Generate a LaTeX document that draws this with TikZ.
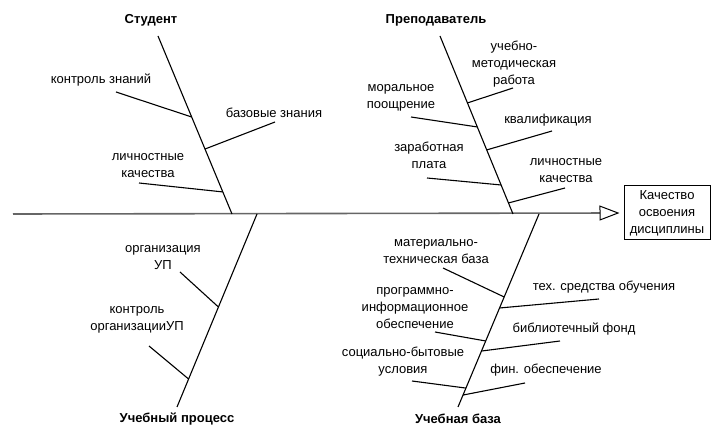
\documentclass[tikz,border=0pt]{standalone}
\usepackage{fontspec}
\setmainfont{Liberation Sans}
\usetikzlibrary{arrows.meta,calc}
\begin{document}
\begin{tikzpicture}[x=1pt,y=-1pt,
  lbl/.style={font=\fontsize{13}{17}\selectfont, align=center, inner sep=0pt},
  head/.style={font=\bfseries\fontsize{13}{17}\selectfont, inner sep=0pt},
  bone/.style={line width=1.1pt, black},
  spine/.style={line width=1.6pt, black!60},
  boxst/.style={draw, line width=1pt, align=center, minimum width=86pt, minimum height=54pt, inner sep=1pt, font=\fontsize{13}{17}\selectfont}]
\useasboundingbox (0,0) rectangle (721,438);
% main spine and result box
\coordinate (spL) at (13,214);
\node[boxst] (res) at (667,213) {Качество\\освоения\\дисциплины};
\draw[spine, -{Triangle[open, length=20pt, width=15pt, line width=1pt, black]}, shorten >=4pt] (spL) -- (res.west);
% bone end points
\coordinate (S1) at (158,36);  \coordinate (S2) at (232,214);
\coordinate (T1) at (440,36);  \coordinate (T2) at (513,214);
\coordinate (P1) at (257,214); \coordinate (P2) at (177,407);
\coordinate (B1) at (539,214); \coordinate (B2) at (458,407);
\draw[bone] (S1) -- (S2);
\draw[bone] (T1) -- (T2);
\draw[bone] (P1) -- (P2);
\draw[bone] (B1) -- (B2);
% headings
\node[head] (hS) at (151,20) {Студент};
\node[head] (hT) at (436,20) {Преподаватель};
\node[head] (hP) at (177,419) {Учебный процесс};
\node[head] (hB) at (458,419) {Учебная база};
% Student
\coordinate (s1) at (116,92);  \draw[bone] (s1) -- ($(S1)!0.455!(S2)$);
\coordinate (s2) at (275,122); \draw[bone] (s2) -- ($(S1)!0.635!(S2)$);
\coordinate (s3) at (139,183); \draw[bone] (s3) -- ($(S1)!0.876!(S2)$);
\node[lbl] (ls1) at (101,80) {контроль знаний};
\node[lbl] (ls2) at (274,113) {базовые знания};
\node[lbl] (ls3) at (148,166) {личностные\\качества};
% Teacher
\coordinate (t1) at (513,88);  \draw[bone] (t1) -- ($(T1)!0.376!(T2)$);
\coordinate (t2) at (411,117); \draw[bone] (t2) -- ($(T1)!0.511!(T2)$);
\coordinate (t3) at (552,131); \draw[bone] (t3) -- ($(T1)!0.640!(T2)$);
\coordinate (t4) at (427,178); \draw[bone] (t4) -- ($(T1)!0.837!(T2)$);
\coordinate (t5) at (565,188); \draw[bone] (t5) -- ($(T1)!0.938!(T2)$);
\node[lbl] (lt1) at (514,64) {учебно-\\методическая\\работа};
\node[lbl] (lt2) at (401,98) {моральное\\поощрение};
\node[lbl] (lt3) at (548,120) {квалификация};
\node[lbl] (lt4) at (429,155) {заработная\\плата};
\node[lbl] (lt5) at (566,171) {личностные\\качества};
% Process
\coordinate (p1) at (180,272); \draw[bone] (p1) -- ($(P1)!0.482!(P2)$);
\coordinate (p2) at (149,346); \draw[bone] (p2) -- ($(P1)!0.855!(P2)$);
\node[lbl] (lp1) at (163,258) {организация\\УП};
\node[lbl] (lp2) at (137,320) {контроль\\организацииУП};
% Base
\coordinate (b1) at (443,268); \draw[bone] (b1) -- ($(B1)!0.430!(B2)$);
\coordinate (b2) at (599,299); \draw[bone] (b2) -- ($(B1)!0.487!(B2)$);
\coordinate (b3) at (435,332); \draw[bone] (b3) -- ($(B1)!0.658!(B2)$);
\coordinate (b4) at (560,341); \draw[bone] (b4) -- ($(B1)!0.710!(B2)$);
\coordinate (b5) at (412,381); \draw[bone] (b5) -- ($(B1)!0.902!(B2)$);
\coordinate (b6) at (525,383); \draw[bone] (b6) -- ($(B1)!0.938!(B2)$);
\node[lbl] (lb1) at (436,252) {материально-\\техническая база};
\node[lbl] (lb2) at (604,287) {тех. средства обучения};
\node[lbl] (lb3) at (415,308) {программно-\\информационное\\обеспечение};
\node[lbl] (lb4) at (574,329) {библиотечный фонд};
\node[lbl] (lb5) at (403,362) {социально-бытовые\\условия};
\node[lbl] (lb6) at (546,370) {фин. обеспечение};
\end{tikzpicture}
\end{document}
